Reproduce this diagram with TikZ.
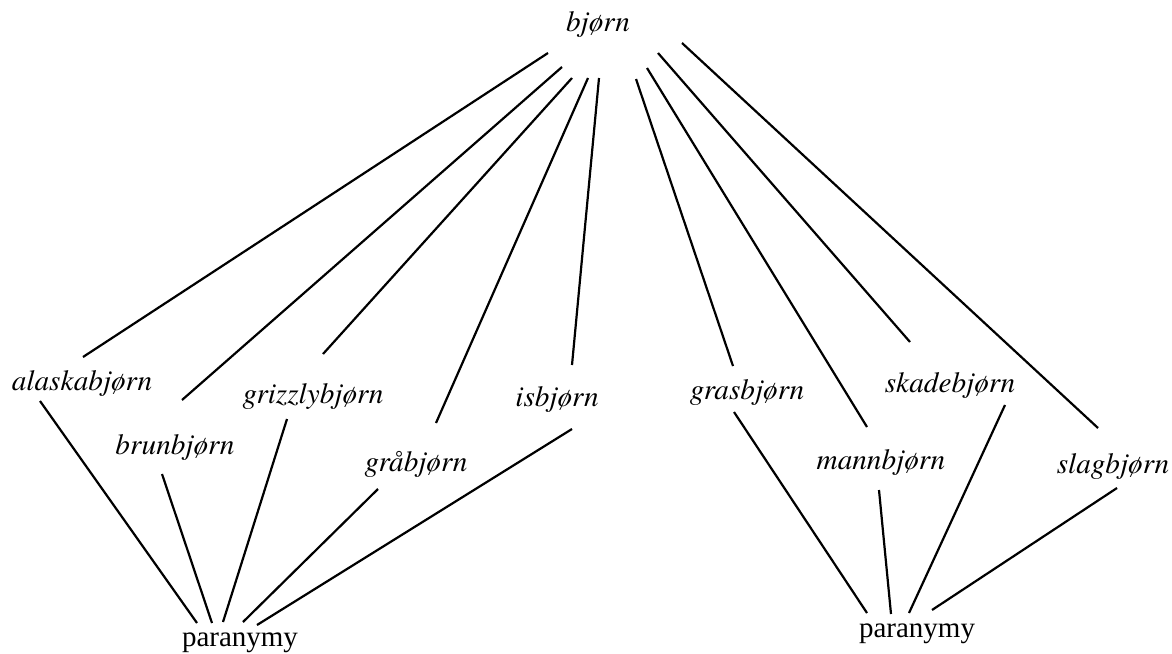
\documentclass[tikz,border=0pt]{standalone}
\usepackage{fontspec}
\setmainfont{Liberation Serif}
\newfontfamily\wordfont{TeX Gyre Termes}
\usetikzlibrary{calc}
\tikzset{
  word/.style={inner sep=0pt, font=\wordfont\fontsize{14.6}{17}\selectfont\itshape},
  label/.style={inner sep=0pt, font=\fontsize{14.5}{17}\selectfont},
  link/.style={line width=1.1pt}
}
\begin{document}
\begin{tikzpicture}[x=0.5pt, y=-0.5pt]
\useasboundingbox (0,0) rectangle (1172,653);
% root
\node[word] (bjorn) at (598,25) {bjørn};
% compounds
\node[word] (alaska)  at (82,384)  {alaskabjørn};
\node[word] (brun)    at (175,448) {brunbjørn};
\node[word] (grizzly) at (313,397) {grizzlybjørn};
\node[word] (gra)     at (416,464) {gråbjørn};
\node[word] (is)      at (557,400) {isbjørn};
\node[word] (gras)    at (747,393) {grasbjørn};
\node[word] (mann)    at (881,463) {mannbjørn};
\node[word] (skade)   at (950,386) {skadebjørn};
\node[word] (slag)    at (1113,467) {slagbjørn};
% groups
\node[label] (parL) at (240,643) {paranymy};
\node[label] (parR) at (917,634) {paranymy};
% root to compounds
\draw[link] ($(bjorn)+(-50,28)$) -- ($(alaska)+(1,-27)$);
\draw[link] ($(bjorn)+(-36,42)$) -- ($(brun)+(7,-48)$);
\draw[link] ($(bjorn)+(-26,53)$) -- ($(grizzly)+(10,-43)$);
\draw[link] ($(bjorn)+(-10,53)$) -- ($(gra)+(20,-41)$);
\draw[link] ($(bjorn)+(1,53)$) -- ($(is)+(15,-35)$);
\draw[link] ($(bjorn)+(38,54)$) -- ($(gras)+(-14,-27)$);
\draw[link] ($(bjorn)+(49,43)$) -- ($(mann)+(-14,-36)$);
\draw[link] ($(bjorn)+(60,28)$) -- ($(skade)+(-40,-44)$);
\draw[link] ($(bjorn)+(84,18)$) -- ($(slag)+(-15,-39)$);
% compounds to groups
\draw[link] ($(alaska)+(-42,17)$) -- ($(parL)+(-43,-20)$);
\draw[link] ($(brun)+(-13,26)$) -- ($(parL)+(-28,-20)$);
\draw[link] ($(grizzly)+(-26,22)$) -- ($(parL)+(-17,-21)$);
\draw[link] ($(gra)+(-38,25)$) -- ($(parL)+(3,-21)$);
\draw[link] ($(is)+(15,29)$) -- ($(parL)+(17,-18)$);
\draw[link] ($(gras)+(-13,19)$) -- ($(parR)+(-50,-21)$);
\draw[link] ($(mann)+(-2,27)$) -- ($(parR)+(-26,-20)$);
\draw[link] ($(skade)+(55,19)$) -- ($(parR)+(-8,-21)$);
\draw[link] ($(slag)+(4,21)$) -- ($(parR)+(15,-24)$);
\end{tikzpicture}
\end{document}
